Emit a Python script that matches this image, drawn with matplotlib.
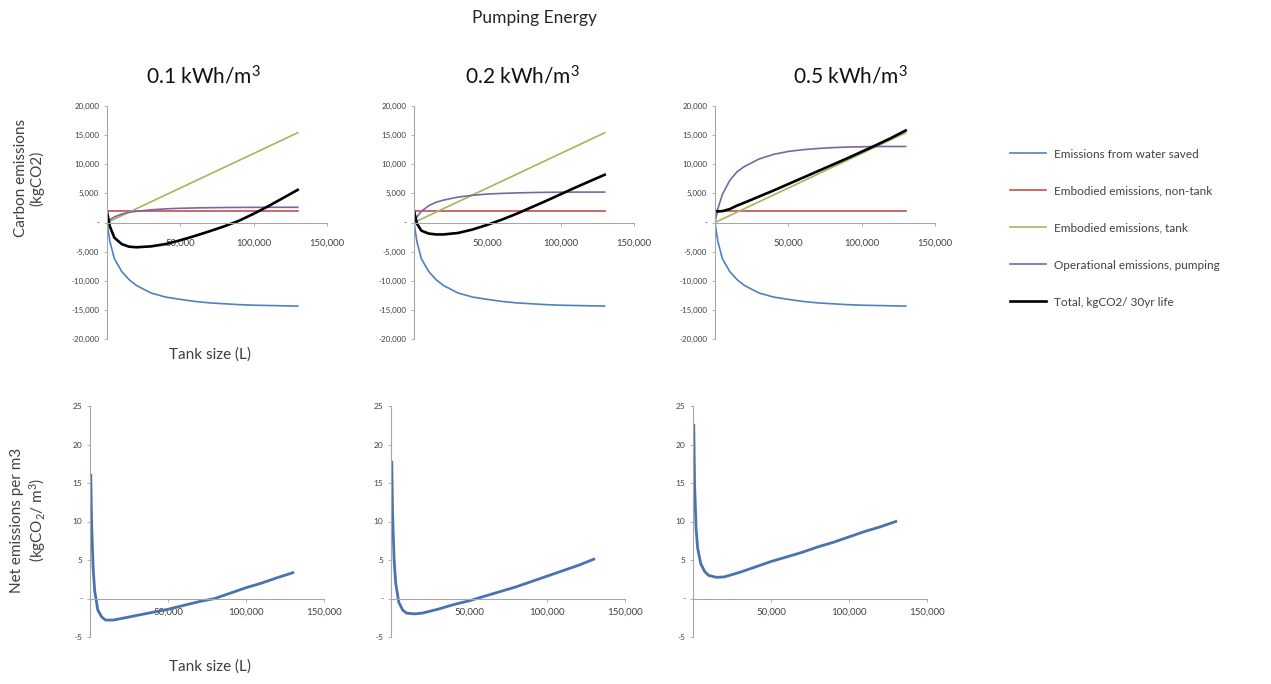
import matplotlib
matplotlib.use("Agg")
import matplotlib.pyplot as plt
from matplotlib.ticker import FuncFormatter, FixedLocator

plt.rcParams['font.family'] = ['Lato', 'DejaVu Sans']
plt.rcParams['mathtext.fontset'] = 'custom'
plt.rcParams['mathtext.rm'] = 'Lato'
plt.rcParams['mathtext.it'] = 'Lato:italic'

# ---------------- data ----------------
tank_size = [0, 2000, 5000, 10000, 15000, 20000, 30000, 40000, 50000, 60000,
             70000, 80000, 90000, 100000, 110000, 120000, 130000]

water_saved = [0, -3300, -6200, -8400, -9800, -10800, -12100, -12800, -13200, -13550,
               -13800, -13950, -14100, -14200, -14250, -14300, -14350]
embodied_nontank = [2000, 2000, 2000, 2000, 2000, 2000, 2000, 2000, 2000, 2000,
                    2000, 2000, 2000, 2000, 2000, 2000, 2000]
embodied_tank = [0, 240, 590, 1180, 1780, 2370, 3550, 4740, 5920, 7110,
                 8290, 9480, 10660, 11850, 13030, 14220, 15400]

pumping_01 = [0, 480, 960, 1440, 1740, 1920, 2180, 2340, 2440, 2500,
              2540, 2570, 2590, 2600, 2610, 2610, 2610]
pumping_02 = [0, 960, 1920, 2880, 3480, 3840, 4360, 4680, 4880, 5000,
              5080, 5140, 5180, 5200, 5220, 5220, 5220]
pumping_05 = [0, 2400, 4800, 7200, 8700, 9600, 10900, 11700, 12200, 12500,
              12700, 12850, 12950, 13000, 13050, 13050, 13050]

total_01 = [1800, -700, -2600, -3700, -4150, -4250, -4100, -3700, -3050, -2300,
            -1500, -650, 300, 1500, 2800, 4200, 5600]
total_02 = [2000, -200, -1400, -1900, -2050, -2050, -1800, -1200, -400, 500,
            1500, 2600, 3700, 4850, 6000, 7100, 8200]
total_05 = [2000, 1900, 1950, 2300, 2900, 3400, 4450, 5500, 6600, 7700,
            8800, 9900, 11000, 12150, 13300, 14500, 15800]

net_size = [500, 1000, 2000, 3000, 5000, 7500, 10000, 15000, 20000, 30000, 40000,
            50000, 60000, 70000, 80000, 90000, 100000, 110000, 120000, 130000]
net_01 = [16.0, 10.0, 4.0, 1.0, -1.5, -2.4, -2.8, -2.8, -2.6, -2.2, -1.8,
          -1.4, -0.9, -0.4, 0.0, 0.7, 1.4, 2.0, 2.7, 3.35]
net_02 = [17.7, 11.0, 5.0, 2.0, -0.5, -1.5, -1.9, -2.0, -1.9, -1.4, -0.8,
          -0.3, 0.3, 0.9, 1.5, 2.2, 2.9, 3.6, 4.3, 5.1]
net_05 = [22.5, 15.0, 9.0, 6.5, 4.5, 3.5, 3.0, 2.75, 2.8, 3.4, 4.1,
          4.8, 5.4, 6.0, 6.7, 7.3, 8.0, 8.7, 9.3, 10.0]

energy_titles = ["0.1 kWh/m$^{\\mathrm{3}}$", "0.2 kWh/m$^{\\mathrm{3}}$", "0.5 kWh/m$^{\\mathrm{3}}$"]
series_labels = ["Emissions from water saved", "Embodied emissions, non-tank",
                 "Embodied emissions, tank", "Operational emissions, pumping",
                 "Total, kgCO2/ 30yr life"]
x_ticks = [0, 50000, 100000, 150000]
top_y_ticks = [-20000, -15000, -10000, -5000, 0, 5000, 10000, 15000, 20000]
bot_y_ticks = [-5, 0, 5, 10, 15, 20, 25]

pumping = [pumping_01, pumping_02, pumping_05]
totals = [total_01, total_02, total_05]
nets = [net_01, net_02, net_05]

# ---------------- style ----------------
W, H = 1271, 684
fig = plt.figure(figsize=(W / 100, H / 100), dpi=100)
col_blue = '#4f81bd'
col_red = '#c0504d'
col_green = '#9bbb59'
col_purple = '#8064a2'
col_net = '#4a72ae'
axis_grey = '#a6a6a6'
txt = '#404040'


def ax_at(left, top, width, height):
    return fig.add_axes([left / W, 1 - (top + height) / H, width / W, height / H])


def fmt_y(v, pos):
    if v == 0:
        return '-'
    return f"{v:,.0f}"


def fmt_x(v, pos):
    if v == 0:
        return ''
    return f"{v:,.0f}"


def style(ax, yticks, ylim, xpad, ysize, xsize):
    ax.set_xlim(0, 150000)
    ax.set_ylim(*ylim)
    for s in ['top', 'right']:
        ax.spines[s].set_visible(False)
    ax.spines['bottom'].set_position(('data', 0))
    ax.spines['left'].set_color(axis_grey)
    ax.spines['bottom'].set_color(axis_grey)
    ax.spines['left'].set_linewidth(0.8)
    ax.spines['bottom'].set_linewidth(0.8)
    ax.xaxis.set_major_locator(FixedLocator(x_ticks))
    ax.yaxis.set_major_locator(FixedLocator(yticks))
    ax.xaxis.set_major_formatter(FuncFormatter(fmt_x))
    ax.yaxis.set_major_formatter(FuncFormatter(fmt_y))
    ax.tick_params(axis='x', length=2.5, width=0.6, color=axis_grey, pad=xpad,
                   labelsize=xsize, labelcolor=txt, direction='out')
    ax.tick_params(axis='y', length=2.5, width=0.6, color=axis_grey, pad=3,
                   labelsize=ysize, labelcolor=txt, direction='out')
    ax.patch.set_alpha(0)


top_lefts = [107, 414, 715]
bot_lefts = [90, 391, 693]
handles = None
for i in range(3):
    ax = ax_at(top_lefts[i], 106, 220, 233)
    h1, = ax.plot(tank_size, water_saved, color=col_blue, lw=1.2)
    h2, = ax.plot(tank_size, embodied_nontank, color=col_red, lw=1.2)
    h3, = ax.plot(tank_size, embodied_tank, color=col_green, lw=1.2)
    h4, = ax.plot(tank_size, pumping[i], color=col_purple, lw=1.2)
    h5, = ax.plot(tank_size, totals[i], color='black', lw=1.9)
    style(ax, top_y_ticks, (-20000, 20000), 9, 5.8, 6.8)
    if handles is None:
        handles = [h1, h2, h3, h4, h5]

    axb = ax_at(bot_lefts[i], 406, 234, 231)
    axb.plot(net_size, nets[i], color=col_net, lw=2.0)
    style(axb, bot_y_ticks, (-5, 25), 4, 6.0, 7.0)

# titles
fig.text(535 / W, 1 - 18 / H, "Pumping Energy", ha='center', va='center',
         fontsize=12.5, color='#262626')
for cx, t in zip([203, 522, 850], energy_titles):
    fig.text(cx / W, 1 - 76 / H, t, ha='center', va='center', fontsize=15, color='#111111')

# axis labels
fig.text(29 / W, 1 - 178 / H, "Carbon emissions\n(kgCO2)", rotation=90, ha='center',
         va='center', fontsize=11, color=txt, multialignment='center', linespacing=1.15)
fig.text(29 / W, 1 - 520 / H, "Net emissions per m3\n(kgCO$_{\\mathrm{2}}$/ m$^{\\mathrm{3}}$)",
         rotation=90, ha='center', va='center', fontsize=11, color=txt,
         multialignment='center', linespacing=1.15)
fig.text(210 / W, 1 - 355 / H, "Tank size (L)", ha='center', va='center', fontsize=11, color=txt)
fig.text(210 / W, 1 - 667 / H, "Tank size (L)", ha='center', va='center', fontsize=11, color=txt)

leg = fig.legend(handles, series_labels, loc='upper left',
                 bbox_to_anchor=(999 / W, 1 - 138 / H), frameon=False, fontsize=8.5,
                 labelspacing=2.2, handlelength=3.1, handletextpad=0.7)
for t in leg.get_texts():
    t.set_color(txt)

fig.savefig("out.png", dpi=100)
